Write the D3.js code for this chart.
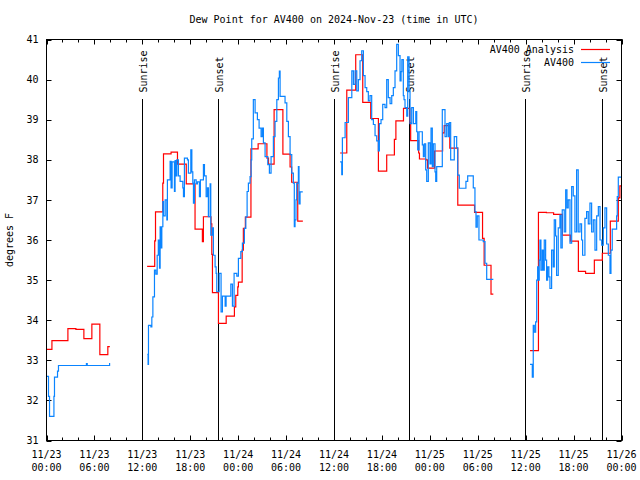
<!DOCTYPE html>
<html>
<head>
<meta charset="utf-8">
<script src="https://cdn.jsdelivr.net/npm/d3@7"></script>
<style>
  html, body { margin: 0; padding: 0; background: #fff; }
  text { font-family: "DejaVu Sans Mono", "Liberation Mono", monospace; font-size: 10px; fill: #000; }
</style>
</head>
<body>
<svg id="chart" width="640" height="480"></svg>
<script>
// ---- data (hours after 2024-11-23 00:00 UTC, dew point in °F); null = gap ----
const titleText = "Dew Point for AV400 on 2024-Nov-23 (time in UTC)";
const yLabelText = "degrees F";
const seriesNames = ["AV400 Analysis", "AV400"];
const yTicks = [31, 32, 33, 34, 35, 36, 37, 38, 39, 40, 41];
const xTickHours = [0, 6, 12, 18, 24, 30, 36, 42, 48, 54, 60, 66, 72];

const sunEvents = [
  ["Sunrise", "2024-11-23T12:01:00Z"],
  ["Sunset",  "2024-11-23T21:32:00Z"],
  ["Sunrise", "2024-11-24T12:03:00Z"],
  ["Sunset",  "2024-11-24T21:26:00Z"],
  ["Sunrise", "2024-11-25T11:57:00Z"],
  ["Sunset",  "2024-11-25T21:31:00Z"]
];

const analysis = [
  [0, 33.27], [0.68, 33.49], [2.68, 33.79], [3.68, 33.77], [4.68, 33.54], [5.68, 33.90],
  [6.68, 33.14], [7.68, 33.34], [7.93, 33.34], null,
  [12.6, 35.34], [13.55, 35.98], [13.65, 36.70], [14.56, 37.42], [14.65, 38.15], [15.6, 38.19],
  [16.4, 37.89], [17.5, 37.40], [18.6, 36.27], [19.52, 35.96], [19.65, 36.58], [20.6, 36.40],
  [20.7, 35.64], [20.78, 34.69], [21.53, 33.92], [22.5, 34.10], [23.53, 34.33], [23.7, 34.62],
  [23.95, 34.83], [24.03, 34.95], [24.5, 35.75], [24.65, 36.29], [24.9, 36.57], [25.6, 38.27],
  [26.5, 38.40], [27.6, 38.04], [27.8, 37.89], [28.5, 39.25], [29.6, 38.14], [30.5, 37.82],
  [30.7, 37.44], [31.46, 36.47], [32.1, 36.47], null,
  [36.76, 38.17], [37.6, 39.74], [38.72, 40.62], [39.6, 39.43], [40.6, 39.03], [41.56, 37.72],
  [42.6, 38.12], [43.56, 38.51], [43.75, 38.97], [44.7, 39.28], [45.5, 38.92], [45.6, 38.48],
  [46.6, 38.17], [46.7, 38.02], [47.5, 38.00], [47.7, 37.79], [48.6, 38.22], [49.6, 38.67],
  [49.8, 38.85], [50.5, 38.29], [51.5, 36.87], [53.6, 36.69], [54.6, 36.04], [54.8, 35.37],
  [55.66, 34.65], [55.95, 34.65], null,
  [60.54, 33.24], [61.6, 36.69], [62.6, 36.68], [63.5, 36.64], [64.6, 36.12], [65.6, 35.97],
  [66.6, 35.22], [67.5, 35.17], [68.6, 35.50], [69.6, 35.67], [70.6, 36.47], [71.6, 37.05],
  [71.8, 37.35], [72, 37.35]
];

const observed = [
  [0, 32.6], [0.25, 32.1], [0.38, 31.6], [0.93, 32.1], [1.0, 32.58], [1.38, 32.73], [1.5, 32.87],
  [5.0, 32.92], [5.1, 32.87], [7.9, 32.92], [7.97, 32.92], null,
  [12.62, 33.15], [12.72, 32.9], [12.77, 33.87], [13.07, 33.83], [13.19, 34.08], [13.32, 34.58],
  [13.52, 35.25], [13.69, 35.15], [13.86, 35.62], [14.0, 36.0], [14.15, 35.3], [14.23, 36.33],
  [14.36, 35.8], [14.44, 36.33], [14.57, 36.96], [14.65, 36.6], [14.86, 37.0], [15.07, 36.5],
  [15.14, 37.5], [15.48, 37.96], [15.6, 37.3], [15.73, 37.95], [16.02, 37.21], [16.1, 37.98],
  [16.23, 37.6], [16.32, 38.0], [16.52, 37.6], [16.73, 37.46], [17.07, 37.3], [17.15, 37.08],
  [17.27, 38.04], [17.65, 38.0], [17.77, 37.67], [18.07, 38.25], [18.2, 37.7], [18.32, 37.42],
  [18.4, 36.92], [18.52, 37.5], [18.74, 37.4], [18.9, 37.45], [19.15, 37.08], [19.27, 37.5],
  [19.65, 37.88], [19.78, 37.6], [19.99, 37.08], [20.15, 37.3], [20.27, 36.58], [20.49, 37.4],
  [20.57, 36.12], [20.78, 36.3], [20.9, 35.62], [21.11, 35.33], [21.24, 35.17], [21.32, 34.71],
  [21.62, 35.17], [21.86, 34.21], [22.03, 34.6], [22.37, 34.35], [22.49, 34.6], [23.08, 34.9],
  [23.28, 34.35], [23.49, 35.17], [23.83, 35.1], [24.03, 35.54], [24.33, 35.71], [24.53, 35.92],
  [24.78, 36.29], [24.96, 36.58], [25.12, 37.21], [25.28, 37.42], [25.49, 37.58], [25.62, 38.0],
  [25.7, 38.52], [25.9, 39.5], [26.12, 39.17], [26.41, 39.0], [26.62, 38.79], [26.87, 38.58],
  [27.03, 38.79], [27.16, 38.42], [27.37, 38.08], [27.71, 37.88], [27.91, 37.67], [28.12, 38.08],
  [28.41, 38.58], [28.62, 38.96], [28.84, 39.5], [29.04, 40.04], [29.16, 40.21], [29.25, 39.58],
  [29.87, 39.42], [30.09, 38.96], [30.29, 38.58], [30.5, 38.13], [30.71, 37.67], [30.91, 37.42],
  [31.03, 36.33], [31.12, 36.5], [31.24, 37.0], [31.33, 37.42], [31.54, 37.83], [31.62, 36.9],
  [31.75, 37.2], [32.09, 37.2], null,
  [36.76, 37.95], [36.97, 37.63], [37.05, 38.55], [37.39, 38.93], [37.8, 39.55], [38.23, 40.22],
  [38.43, 39.88], [38.64, 40.22], [38.85, 39.72], [39.05, 40.0], [39.26, 40.47], [39.47, 40.72],
  [39.68, 40.1], [39.89, 39.8], [40.1, 39.7], [40.3, 39.47], [40.51, 39.6], [40.72, 39.0],
  [40.93, 38.88], [41.14, 38.6], [41.35, 38.47], [41.55, 38.22], [41.68, 38.9], [41.89, 39.0],
  [42.1, 39.38], [42.39, 39.3], [42.6, 40.0], [42.8, 39.55], [43.02, 39.4], [43.23, 39.6],
  [43.43, 39.8], [43.64, 40.22], [43.85, 40.88], [44.06, 40.6], [44.27, 39.97], [44.4, 40.2],
  [44.5, 40.5], [44.68, 39.6], [44.77, 39.5], [44.89, 39.3], [45.11, 39.09], [45.23, 40.57],
  [45.4, 39.7], [45.52, 38.9], [45.73, 39.3], [45.94, 38.9], [46.24, 39.2], [46.36, 38.7],
  [46.48, 38.25], [46.65, 38.7], [47.06, 38.37], [47.19, 38.08], [47.31, 38.4], [47.48, 37.75],
  [47.61, 37.46], [47.81, 38.42], [48.02, 37.9], [48.15, 38.79], [48.31, 37.83], [48.44, 38.4],
  [48.65, 37.7], [48.74, 37.46], [48.86, 37.83], [49.56, 39.25], [49.9, 38.58], [50.11, 38.9],
  [50.31, 38.58], [50.44, 38.93], [50.61, 38.0], [51.06, 38.58], [51.36, 38.3], [51.49, 37.62],
  [51.69, 37.29], [52.52, 37.46], [52.74, 37.6], [53.44, 37.3], [53.65, 36.71], [53.78, 36.32],
  [53.94, 36.6], [54.15, 36.0], [54.69, 35.96], [54.91, 35.42], [55.12, 35.02], [55.95, 35.02], null,
  [60.54, 32.9], [60.83, 32.58], [60.95, 33.87], [61.08, 33.7], [61.25, 33.96], [61.38, 35.0],
  [61.5, 35.33], [61.58, 35.0], [61.7, 35.5], [61.79, 36.0], [61.91, 35.25], [62.08, 35.75],
  [62.2, 35.25], [62.33, 36.0], [62.5, 35.5], [62.62, 35.0], [62.75, 35.33], [62.91, 35.08],
  [63.04, 34.79], [63.25, 35.75], [63.45, 35.33], [63.58, 36.5], [63.75, 36.1], [63.87, 35.12],
  [64.08, 36.3], [64.29, 36.62], [64.41, 35.8], [64.58, 36.75], [64.83, 36.2], [65.01, 37.25],
  [65.17, 36.8], [65.33, 37.0], [65.55, 35.92], [65.76, 37.33], [65.96, 37.1], [66.17, 36.2],
  [66.38, 37.75], [66.58, 36.2], [66.8, 36.4], [67.0, 36.0], [67.13, 35.62], [67.42, 36.54],
  [67.63, 36.71], [67.84, 36.4], [68.05, 36.92], [68.26, 36.2], [68.47, 36.5], [68.68, 35.75],
  [68.89, 36.6], [69.1, 36.83], [69.31, 36.0], [69.52, 35.87], [69.72, 36.3], [69.93, 36.8],
  [70.14, 35.9], [70.35, 35.62], [70.56, 35.17], [70.68, 35.75], [70.84, 36.27], [71.39, 36.6],
  [71.47, 37.08], [71.6, 37.57], [72, 37.57]
];

// ---- drawing ----
const W = 640, H = 480;
const plot = { left: 46.5, right: 621.5, top: 39.5, bottom: 440.5 };
const colors = ["#ff0000", "#0a84ff"];
const t0 = Date.UTC(2024, 10, 23);
const hourToDate = h => new Date(t0 + h * 3600e3);

const svg = d3.select("#chart");
const x = d3.scaleUtc().domain([hourToDate(0), hourToDate(72)]).range([plot.left, plot.right]);
const y = d3.scaleLinear().domain([31, 41]).range([plot.bottom, plot.top]);

svg.append("defs").append("clipPath").attr("id", "clip")
  .append("rect").attr("x", plot.left).attr("y", plot.top)
  .attr("width", plot.right - plot.left).attr("height", plot.bottom - plot.top);

// title
svg.append("text").attr("x", (plot.left + plot.right) / 2).attr("y", 23)
  .attr("text-anchor", "middle").text(titleText);

// y label
svg.append("text").attr("transform", "translate(13,240) rotate(-90)")
  .attr("text-anchor", "middle").text(yLabelText);

const axes = svg.append("g").attr("stroke", "#000").attr("stroke-width", 1);
// y ticks
yTicks.forEach(v => {
  const yy = Math.round(y(v)) + 0.5;
  axes.append("line").attr("x1", plot.left).attr("x2", plot.left + 5).attr("y1", yy).attr("y2", yy);
  axes.append("line").attr("x1", plot.right - 5).attr("x2", plot.right).attr("y1", yy).attr("y2", yy);
  svg.append("text").attr("x", 38.5).attr("y", y(v) + 3.6).attr("text-anchor", "end").text(v);
});
// x minor ticks (every 2h)
const minor = x.ticks(d3.utcHour.every(2));
minor.forEach(d => {
  const xx = Math.round(x(d)) + 0.5;
  axes.append("line").attr("x1", xx).attr("x2", xx).attr("y1", plot.bottom).attr("y2", plot.bottom - 3);
  axes.append("line").attr("x1", xx).attr("x2", xx).attr("y1", plot.top).attr("y2", plot.top + 3);
});
// x major ticks and labels
const fmtDay = d3.utcFormat("%m/%d"), fmtTime = d3.utcFormat("%H:%M");
xTickHours.forEach(h => {
  const d = hourToDate(h);
  const xx = Math.round(x(d)) + 0.5;
  axes.append("line").attr("x1", xx).attr("x2", xx).attr("y1", plot.bottom).attr("y2", plot.bottom - 5);
  axes.append("line").attr("x1", xx).attr("x2", xx).attr("y1", plot.top).attr("y2", plot.top + 5);
  const t = svg.append("text").attr("text-anchor", "middle");
  t.append("tspan").attr("x", x(d)).attr("y", 458).text(fmtDay(d));
  t.append("tspan").attr("x", x(d)).attr("y", 471).text(fmtTime(d));
});

// sunrise / sunset
sunEvents.forEach(([label, iso]) => {
  const d = new Date(iso);
  const xx = Math.round(x(d)) + 0.5;
  svg.append("line").attr("x1", xx).attr("x2", xx).attr("y1", 99).attr("y2", plot.bottom)
    .attr("stroke", "#000").attr("stroke-width", 1);
  svg.append("text").attr("transform", `translate(${xx + 4.5},92.5) rotate(-90)`)
    .attr("text-anchor", "start").text(label);
});

// data lines
const line = d3.line()
  .defined(d => d !== null)
  .x(d => x(hourToDate(d[0])))
  .y(d => y(d[1]))
  .curve(d3.curveStepAfter);

const dataG = svg.append("g").attr("clip-path", "url(#clip)");
[analysis, observed].forEach((series, i) => {
  dataG.append("path").datum(series).attr("d", line)
    .attr("fill", "none").attr("stroke", colors[i]).attr("stroke-width", 1.2);
});

// legend
seriesNames.forEach((name, i) => {
  const ly = 49.5 + i * 13;
  svg.append("text").attr("x", 574).attr("y", ly + 3.5).attr("text-anchor", "end").text(name);
  svg.append("line").attr("x1", 581).attr("x2", 610).attr("y1", ly).attr("y2", ly)
    .attr("stroke", colors[i]).attr("stroke-width", 1.2);
});

// border
svg.append("rect").attr("x", plot.left).attr("y", plot.top)
  .attr("width", plot.right - plot.left).attr("height", plot.bottom - plot.top)
  .attr("fill", "none").attr("stroke", "#000").attr("stroke-width", 1);
</script>
</body>
</html>
